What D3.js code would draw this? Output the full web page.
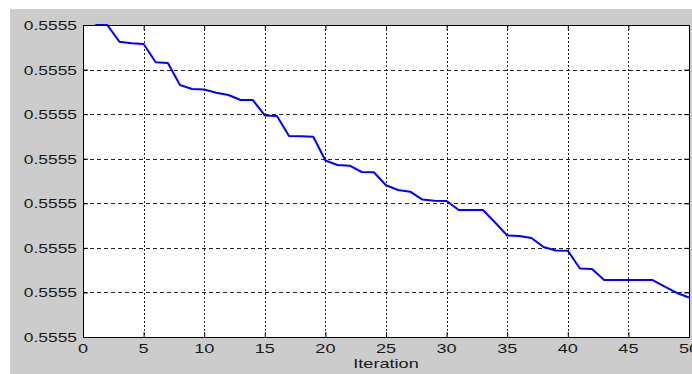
<!DOCTYPE html>
<html>
<head>
<meta charset="utf-8">
<script src="https://cdn.jsdelivr.net/npm/d3@7"></script>
<style>
  html, body { margin: 0; padding: 0; background: #ffffff; }
  svg { display: block; }
  text { font-family: "Liberation Sans", Arial, sans-serif; fill: #1a1a1a; }
</style>
</head>
<body>
<svg id="chart" width="692" height="374"></svg>
<script>
// Objective value per iteration
const iterations = d3.range(1, 51);
const values = [
  0.55552500, 0.55552500, 0.55552313, 0.55552295, 0.55552287,
  0.55552082, 0.55552074, 0.55551827, 0.55551782, 0.55551776,
  0.55551741, 0.55551715, 0.55551659, 0.55551659, 0.55551485,
  0.55551479, 0.55551255, 0.55551251, 0.55551247, 0.55550980,
  0.55550929, 0.55550922, 0.55550851, 0.55550848, 0.55550702,
  0.55550649, 0.55550630, 0.55550542, 0.55550529, 0.55550526,
  0.55550425, 0.55550425, 0.55550425, 0.55550284, 0.55550139,
  0.55550133, 0.55550111, 0.55550010, 0.55549970, 0.55549968,
  0.55549768, 0.55549763, 0.55549639, 0.55549639, 0.55549639,
  0.55549639, 0.55549639, 0.55549564, 0.55549494, 0.55549443
];
const xTicks = [0, 5, 10, 15, 20, 25, 30, 35, 40, 45, 50];
const yTicks = [0.555490, 0.555495, 0.555500, 0.555505, 0.555510, 0.555515, 0.555520, 0.555525];
const xLabel = "Iteration";

const svg = d3.select("#chart");
const W = 692, H = 374;
const plot = { left: 83, top: 25, right: 689, bottom: 337 };
const stretch = 1.45;

// figure background
svg.append("rect").attr("x", 10).attr("y", 9).attr("width", W - 10).attr("height", H - 9).attr("fill", "#cccccc");
svg.append("rect").attr("x", plot.left).attr("y", plot.top)
  .attr("width", plot.right - plot.left).attr("height", plot.bottom - plot.top).attr("fill", "#ffffff");

const x = d3.scaleLinear().domain([0, 50]).range([plot.left, plot.right]);
const y = d3.scaleLinear().domain([0.555490, 0.555525]).range([plot.bottom, plot.top]);
const fmt = d3.format(".4f");

// grid
const grid = svg.append("g");
grid.selectAll("line.v").data(xTicks.slice(1, -1)).join("line")
  .attr("x1", d => Math.round(x(d)) + 0.5).attr("x2", d => Math.round(x(d)) + 0.5)
  .attr("y1", plot.top).attr("y2", plot.bottom)
  .attr("stroke", "#222").attr("stroke-width", 1).attr("stroke-dasharray", "2,2");
grid.selectAll("line.h").data(yTicks.slice(1, -1)).join("line")
  .attr("y1", d => Math.round(y(d)) + 0.5).attr("y2", d => Math.round(y(d)) + 0.5)
  .attr("x1", plot.left).attr("x2", plot.right)
  .attr("stroke", "#222").attr("stroke-width", 1).attr("stroke-dasharray", "4,3");

// data line
const line = d3.line().x((d, i) => x(iterations[i])).y(d => y(d));
svg.append("path").datum(values)
  .attr("d", line).attr("fill", "none")
  .attr("stroke", "#0000ff").attr("stroke-width", 2).attr("stroke-linejoin", "round");

// axes with inward ticks
const xAxis = d3.axisBottom(x).tickValues(xTicks).tickSize(-5).tickFormat("");
const xAxisTop = d3.axisTop(x).tickValues(xTicks).tickSize(-5).tickFormat("");
const yAxis = d3.axisLeft(y).tickValues(yTicks).tickSize(-5).tickFormat("");
const yAxisRight = d3.axisRight(y).tickValues(yTicks).tickSize(-5).tickFormat("");

function styleAxis(g) {
  g.select(".domain").attr("stroke", "#000").attr("stroke-width", 1);
  g.selectAll(".tick line").attr("stroke", "#000");
}
svg.append("g").attr("transform", `translate(0,${plot.bottom})`).call(xAxis).call(styleAxis);
svg.append("g").attr("transform", `translate(0,${plot.top})`).call(xAxisTop).call(styleAxis);
svg.append("g").attr("transform", `translate(${plot.left},0)`).call(yAxis).call(styleAxis);
svg.append("g").attr("transform", `translate(${plot.right},0)`).call(yAxisRight).call(styleAxis);

// tick labels
svg.append("g").selectAll("text").data(xTicks).join("text")
  .attr("transform", d => `translate(${x(d)},352.5) scale(${stretch},1)`)
  .attr("text-anchor", "middle").attr("font-size", 12.5)
  .text(d => d);
svg.append("g").selectAll("text").data(yTicks).join("text")
  .attr("transform", d => `translate(77,${y(d) + 5}) scale(${stretch},1)`)
  .attr("text-anchor", "end").attr("font-size", 12)
  .text(d => fmt(d));

svg.append("text")
  .attr("transform", `translate(${(plot.left + plot.right) / 2},368) scale(${stretch},1)`)
  .attr("text-anchor", "middle").attr("font-size", 12.5)
  .text(xLabel);
</script>
</body>
</html>
